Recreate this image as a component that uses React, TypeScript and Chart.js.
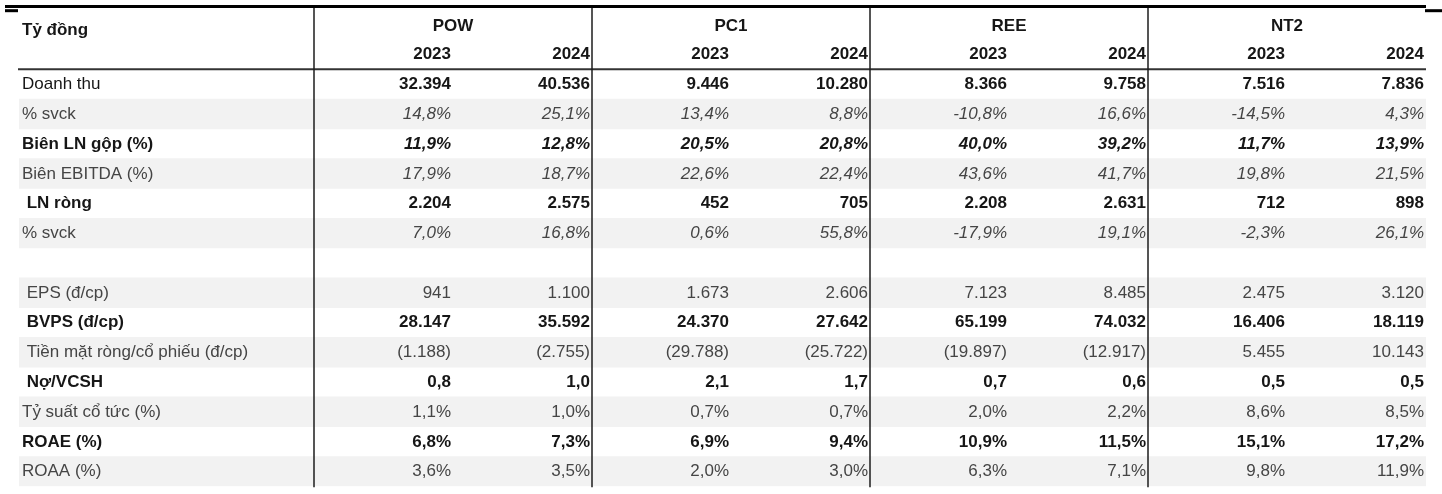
import React, { useEffect, useRef } from "react";
import { Chart, registerables } from "chart.js";

Chart.register(...registerables);

// ---------- data ----------
const unitHeader = "Tỷ đồng";
const companies = ["POW", "PC1", "REE", "NT2"];
const years = ["2023", "2024"];

const rowLabels = [
  "Doanh thu",
  "% svck",
  "Biên LN gộp (%)",
  "Biên EBITDA (%)",
  " LN ròng",
  "% svck",
  "",
  " EPS (đ/cp)",
  " BVPS (đ/cp)",
  " Tiền mặt ròng/cổ phiếu (đ/cp)",
  " Nợ/VCSH",
  "Tỷ suất cổ tức (%)",
  "ROAE (%)",
  "ROAA (%)",
];

// values ordered: POW 2023, POW 2024, PC1 2023, PC1 2024, REE 2023, REE 2024, NT2 2023, NT2 2024
const doanhThu = [32394, 40536, 9446, 10280, 8366, 9758, 7516, 7836];
const doanhThuYoY = [14.8, 25.1, 13.4, 8.8, -10.8, 16.6, -14.5, 4.3];
const bienLNGop = [11.9, 12.8, 20.5, 20.8, 40.0, 39.2, 11.7, 13.9];
const bienEBITDA = [17.9, 18.7, 22.6, 22.4, 43.6, 41.7, 19.8, 21.5];
const lnRong = [2204, 2575, 452, 705, 2208, 2631, 712, 898];
const lnRongYoY = [7.0, 16.8, 0.6, 55.8, -17.9, 19.1, -2.3, 26.1];
const eps = [941, 1100, 1673, 2606, 7123, 8485, 2475, 3120];
const bvps = [28147, 35592, 24370, 27642, 65199, 74032, 16406, 18119];
const netCashPerShare = [-1188, -2755, -29788, -25722, -19897, -12917, 5455, 10143];
const debtToEquity = [0.8, 1.0, 2.1, 1.7, 0.7, 0.6, 0.5, 0.5];
const dividendYield = [1.1, 1.0, 0.7, 0.7, 2.0, 2.2, 8.6, 8.5];
const roae = [6.8, 7.3, 6.9, 9.4, 10.9, 11.5, 15.1, 17.2];
const roaa = [3.6, 3.5, 2.0, 3.0, 6.3, 7.1, 9.8, 11.9];

const rowValues: (number[] | null)[] = [
  doanhThu,
  doanhThuYoY,
  bienLNGop,
  bienEBITDA,
  lnRong,
  lnRongYoY,
  null,
  eps,
  bvps,
  netCashPerShare,
  debtToEquity,
  dividendYield,
  roae,
  roaa,
];

const rowFormats = ["int", "pct", "pct", "pct", "int", "pct", "none", "int", "int", "int", "dec", "pct", "pct", "pct"];

// ---------- styles ----------
type RowStyle = { lw: string; lc: string; vw: string; vi: boolean; vc: string };
const BLACK = "#161616";
const GREY = "#454545";
const S_REV: RowStyle = { lw: "normal", lc: BLACK, vw: "bold", vi: false, vc: BLACK };
const S_IT: RowStyle = { lw: "normal", lc: GREY, vw: "normal", vi: true, vc: GREY };
const S_BI: RowStyle = { lw: "bold", lc: BLACK, vw: "bold", vi: true, vc: BLACK };
const S_B: RowStyle = { lw: "bold", lc: BLACK, vw: "bold", vi: false, vc: BLACK };
const S_N: RowStyle = { lw: "normal", lc: GREY, vw: "normal", vi: false, vc: GREY };
const rowStyles: RowStyle[] = [S_REV, S_IT, S_BI, S_IT, S_B, S_IT, S_N, S_N, S_B, S_N, S_B, S_N, S_B, S_N];

const FONT_FAMILY = '"Liberation Sans", Arial, Helvetica, sans-serif';
const FONT_SIZE = 17;
const LABEL_COL = 295 / 139; // label column width in value-column units
const NCOLS = companies.length * years.length;
const HEADER_ROWS = 2;

function fmtInt(v: number): string {
  const s = Math.abs(Math.round(v))
    .toString()
    .replace(/\B(?=(\d{3})+(?!\d))/g, ".");
  return v < 0 ? "(" + s + ")" : s;
}
function fmtValue(v: number, kind: string): string {
  if (kind === "int") return fmtInt(v);
  if (kind === "pct") return v.toFixed(1).replace(".", ",") + "%";
  if (kind === "dec") return v.toFixed(1).replace(".", ",");
  return "";
}

const yLabels = ["header1", "header2", ...rowLabels.map((l, i) => "row" + i)];
const bandData = yLabels.map((_, i) => {
  const r = i - HEADER_ROWS;
  return r >= 0 && r % 2 === 1 ? [-LABEL_COL, NCOLS] : null;
});

const tablePlugin = {
  id: "tableText",
  afterDatasetsDraw(chart: any) {
    const ctx: CanvasRenderingContext2D = chart.ctx;
    const xs = chart.scales.x;
    const ys = chart.scales.y;
    const area = chart.chartArea;
    ctx.save();

    // top thick rule
    ctx.fillStyle = "#000";
    ctx.fillRect(area.left - 14, area.top - 4.7, area.right - area.left + 14, 3);
    ctx.fillRect(area.left - 14, area.top - 0.5, 13, 3);
    ctx.fillRect(area.right - 1, area.top - 0.5, 20, 3);

    // header underline
    const hy = (ys.getPixelForValue(HEADER_ROWS - 1) + ys.getPixelForValue(HEADER_ROWS)) / 2;
    ctx.strokeStyle = "#333";
    ctx.lineWidth = 2;
    ctx.beginPath();
    ctx.moveTo(area.left - 1, hy);
    ctx.lineTo(area.right, hy);
    ctx.stroke();

    // vertical separators between companies
    ctx.strokeStyle = "#1c1c1c";
    ctx.lineWidth = 1.5;
    for (let c = 0; c < companies.length; c++) {
      const x = xs.getPixelForValue(c * years.length);
      ctx.beginPath();
      ctx.moveTo(x, area.top - 1.7);
      ctx.lineTo(x, area.bottom + 1);
      ctx.stroke();
    }

    ctx.textBaseline = "middle";
    // header texts
    ctx.fillStyle = BLACK;
    ctx.font = `bold ${FONT_SIZE}px ${FONT_FAMILY}`;
    ctx.textAlign = "left";
    ctx.fillText(unitHeader, xs.left + 3, ys.getPixelForValue(0) + 6);
    ctx.textAlign = "center";
    companies.forEach((name, c) => {
      const x = xs.getPixelForValue(c * years.length + years.length / 2);
      ctx.fillText(name, x, ys.getPixelForValue(0) + 1.5);
    });
    ctx.textAlign = "right";
    for (let c = 0; c < companies.length; c++) {
      years.forEach((yr, k) => {
        const x = xs.getPixelForValue(c * years.length + k + 1) - 2;
        ctx.fillText(yr, x, ys.getPixelForValue(1));
      });
    }

    // rows
    rowLabels.forEach((label, r) => {
      const st = rowStyles[r];
      const y = ys.getPixelForValue(r + HEADER_ROWS) + 0.3;
      ctx.textAlign = "left";
      ctx.fillStyle = st.lc;
      ctx.font = `${st.lw} ${FONT_SIZE}px ${FONT_FAMILY}`;
      if (label) ctx.fillText(label, xs.left + 3, y);
      const vals = rowValues[r];
      if (!vals) return;
      ctx.textAlign = "right";
      ctx.fillStyle = st.vc;
      ctx.font = `${st.vi ? "italic " : ""}${st.vw} ${FONT_SIZE}px ${FONT_FAMILY}`;
      vals.forEach((v, j) => {
        const x = xs.getPixelForValue(j + 1) - 2;
        ctx.fillText(fmtValue(v, rowFormats[r]), x, y);
      });
    });
    ctx.restore();
  },
};

export default function App() {
  const canvasRef = useRef<HTMLCanvasElement | null>(null);

  useEffect(() => {
    if (!canvasRef.current) return;
    const chart = new Chart(canvasRef.current, {
      type: "bar",
      data: {
        labels: yLabels,
        datasets: [
          {
            data: bandData as any,
            backgroundColor: "#f2f2f2",
            borderWidth: 0,
            barPercentage: 1,
            categoryPercentage: 1,
          },
        ],
      },
      options: {
        indexAxis: "y",
        responsive: false,
        animation: false,
        devicePixelRatio: 1,
        layout: { padding: { left: 19, right: 16, top: 9.7, bottom: 7.7 } },
        scales: {
          x: { type: "linear", min: -LABEL_COL, max: NCOLS, display: false },
          y: { type: "category", display: false, offset: true },
        },
        plugins: { legend: { display: false }, tooltip: { enabled: false } },
      },
      plugins: [tablePlugin],
    });
    return () => chart.destroy();
  }, []);

  return (
    <div style={{ position: "absolute", left: 0, top: 0, width: 1442, height: 494, background: "#fff" }}>
      <canvas ref={canvasRef} width={1442} height={494} />
    </div>
  );
}
